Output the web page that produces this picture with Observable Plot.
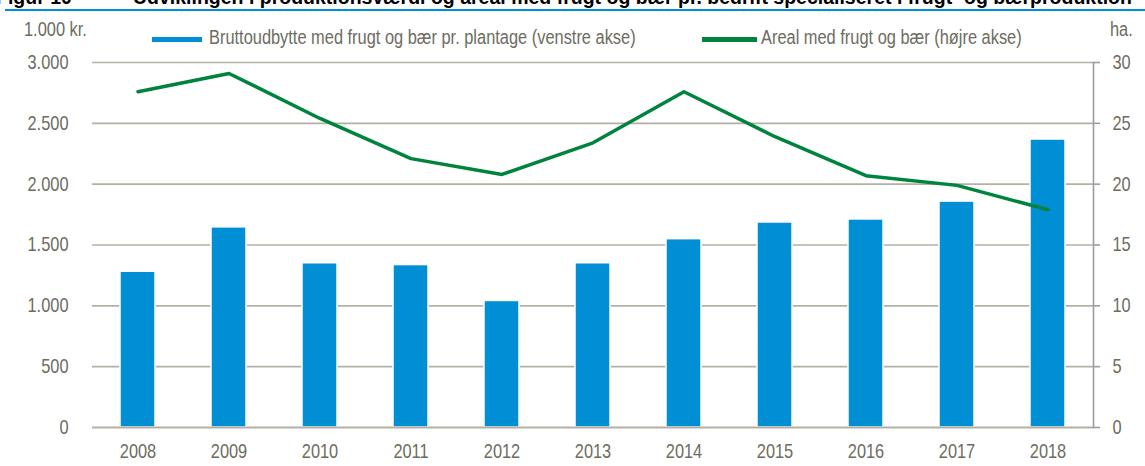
<!DOCTYPE html>
<html>
<head>
<meta charset="utf-8">
<script src="https://cdn.jsdelivr.net/npm/d3@7"></script>
<script src="https://cdn.jsdelivr.net/npm/@observablehq/plot@0.6"></script>
<style>
  html, body { margin: 0; padding: 0; background: #fff; }
  body { width: 1145px; height: 466px; overflow: hidden; position: relative;
         font-family: "Liberation Sans", Arial, sans-serif; }
  .abs { position: absolute; white-space: nowrap; }
  .lbl { font-size: 20px; line-height: 20px; color: #6d6c5f; transform: scaleX(0.82); transform-origin: 0 0; }
  .title { font-family: "Liberation Sans", Arial, sans-serif; font-weight: bold; font-size: 19.5px; line-height: 19.5px; color: #000; top: -12.5px; }
  .rule { left: 5px; top: 9px; width: 1140px; height: 2px; background: #0090d5; }
  .sw { height: 5px; }
  #chart { position: absolute; left: 0; top: 50px; }
</style>
</head>
<body>
<div class="abs title" style="left:-4px">Figur 10</div>
<div class="abs title" style="left:133px">Udviklingen i produktionsværdi og areal med frugt og bær pr. bedrift specialiseret i frugt- og bærproduktion</div>
<div class="abs rule"></div>
<div class="abs lbl" style="left:24px; top:19px">1.000 kr.</div>
<div class="abs sw" style="left:152px; top:37px; width:50px; background:#008fd5"></div>
<div class="abs lbl" style="left:209px; top:27px">Bruttoudbytte med frugt og bær pr. plantage (venstre akse)</div>
<div class="abs sw" style="left:702px; top:37px; width:55px; background:#00843d"></div>
<div class="abs lbl" style="left:761px; top:27px">Areal med frugt og bær (højre akse)</div>
<div class="abs lbl" style="left:1110px; top:19px">ha.</div>
<div id="chart"></div>
<script>
const years = ["2008","2009","2010","2011","2012","2013","2014","2015","2016","2017","2018"];
const grossOutput = [1280, 1645, 1350, 1335, 1040, 1350, 1548, 1685, 1710, 1857, 2367]; // 1.000 kr.
const area = [27.6, 29.1, 25.4, 22.1, 20.8, 23.4, 27.6, 23.9, 20.7, 19.9, 17.9];       // ha.
const leftTicks = [0, 500, 1000, 1500, 2000, 2500, 3000];
const rightTicks = [0, 5, 10, 15, 20, 25, 30];
const areaFactor = 100; // right axis (0–30 ha) mapped onto left axis (0–3.000)

const data = years.map((year, i) => ({year, gross: grossOutput[i], area: area[i]}));
const textColor = "#6d6c5f";
const gridColor = "#b4b0a3";
const fmtLeft = d => d3.format(",")(d).replace(/,/g, ".");

const chart = Plot.plot({
  width: 1145,
  height: 416,
  marginTop: 12,
  marginBottom: 39,
  marginLeft: 92,
  marginRight: 52,
  style: {fontFamily: '"Liberation Sans", Arial, sans-serif', fontSize: "20px", color: textColor, background: "white"},
  x: {type: "band", domain: years, paddingInner: 0.615, paddingOuter: 0.3075, label: null},
  y: {domain: [0, 3000], label: null},
  marks: [
    Plot.gridY(leftTicks.filter(d => d > 0), {stroke: gridColor, strokeOpacity: 1, strokeWidth: 1.6}),
    Plot.barY(data, {x: "year", y: "gross", fill: "#008fd5", stroke: "white", strokeWidth: 1.5}),
    Plot.ruleY([0], {stroke: gridColor, strokeWidth: 2}),
    Plot.frame({anchor: "right", stroke: "#9d9d9d", strokeWidth: 1.6}),
    Plot.line(data, {x: "year", y: d => d.area * areaFactor, stroke: "#00843d", strokeWidth: 3.5}),
    Plot.axisX({tickSize: 0, tickPadding: 16, fontSize: 20, fill: textColor, label: null}),
    Plot.axisY(leftTicks, {anchor: "left", tickSize: 0, tickPadding: 24, tickFormat: fmtLeft, fontSize: 20, fill: textColor, label: null}),
    Plot.axisY(rightTicks.map(d => d * areaFactor), {anchor: "right", tickSize: 6, tickPadding: 13, stroke: "#9d9d9d", strokeWidth: 1.6, tickFormat: d => String(d / areaFactor), fontSize: 20, fill: textColor, label: null})
  ]
});
document.getElementById("chart").appendChild(chart);

// Narrow (Arial Narrow–like) text: condense each axis label horizontally about its own anchor point.
chart.querySelectorAll("text").forEach(t => {
  let tr = t.getAttribute("transform") || "";
  const x = t.getAttribute("x");
  if (x !== null) { tr += ` translate(${x},0)`; t.removeAttribute("x"); }
  t.setAttribute("transform", (tr + " scale(0.82,1)").trim());
});
</script>
</body>
</html>
